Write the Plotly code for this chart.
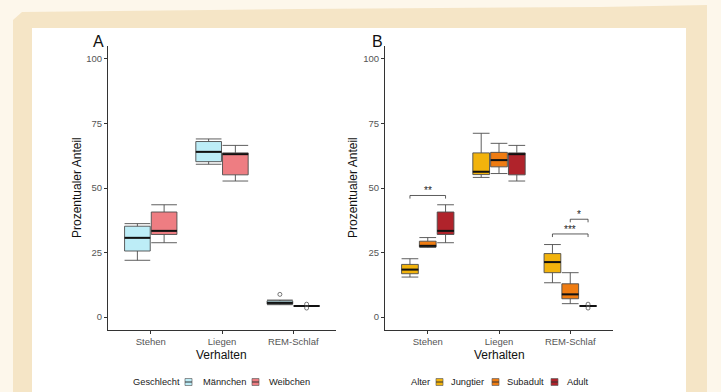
import plotly.graph_objects as go

W, H = 721, 392

categories = ["Stehen", "Liegen", "REM-Schlaf"]
y_ticks = [0, 25, 50, 75, 100]

# Panel A: Geschlecht
maennchen_min = [22.0, 59.2, 4.8]
maennchen_q1 = [25.6, 60.2, 5.0]
maennchen_med = [30.7, 64.0, 5.5]
maennchen_q3 = [35.2, 68.0, 6.3]
maennchen_max = [36.2, 69.0, 6.6]

weibchen_min = [28.8, 52.7, 4.3]
weibchen_q1 = [32.0, 55.1, 4.3]
weibchen_med = [33.4, 63.1, 4.3]
weibchen_q3 = [40.7, 63.6, 4.3]
weibchen_max = [43.5, 66.5, 4.3]

# Panel B: Alter
jung_min = [15.5, 54.1, 13.3]
jung_q1 = [16.8, 55.2, 17.2]
jung_med = [18.4, 56.3, 21.3]
jung_q3 = [20.4, 63.6, 24.6]
jung_max = [22.6, 71.2, 28.1]

sub_min = [27.0, 55.6, 5.2]
sub_q1 = [27.2, 58.2, 7.1]
sub_med = [27.6, 60.8, 8.8]
sub_q3 = [29.4, 63.8, 12.9]
sub_max = [30.8, 67.3, 17.2]

adult_min = [28.8, 52.7, 4.3]
adult_q1 = [32.0, 55.1, 4.3]
adult_med = [33.4, 63.1, 4.3]
adult_q3 = [40.7, 63.6, 4.3]
adult_max = [43.5, 66.5, 4.3]

# outliers (category index, value)
out_maennchen = [(2, 8.8)]
out_weibchen = [(2, 5.0), (2, 3.5)]
out_adult = [(2, 5.0), (2, 3.5)]

# significance brackets in panel B
sig_cat = [0, 2, 2]
sig_from = [0, 0, 1]
sig_to = [2, 2, 2]
sig_y = [47.1, 32.2, 37.9]
sig_label = ["**", "***", "*"]

legend_a_title = "Geschlecht"
legend_a_labels = ["Männchen", "Weibchen"]
legend_b_title = "Alter"
legend_b_labels = ["Jungtier", "Subadult", "Adult"]

colors_a = ["#BDEDF7", "#EE7D82"]
colors_b = ["#F2B30C", "#EF7C12", "#B0232B"]

FONT = "Liberation Sans, Arial, sans-serif"
fig = go.Figure()

def xp(p): return p / W
def yp(p): return 1 - p / H

def add_group(name, color, off, width, stats, outl, xa, ya):
    mn, q1, md, q3, mx = stats
    xs = [i + off for i in range(len(categories))]
    fig.add_trace(go.Box(
        x=xs, q1=q1, median=md, q3=q3, lowerfence=mn, upperfence=mx,
        width=width, fillcolor=color, line=dict(color="#4d4d4d", width=0.9),
        whiskerwidth=1, name=name, xaxis=xa, yaxis=ya, showlegend=False,
        boxpoints=False, hoverinfo="skip"))
    mx_, my_ = [], []
    for x, m in zip(xs, md):
        mx_ += [x - width / 2, x + width / 2, None]
        my_ += [m, m, None]
    fig.add_trace(go.Scatter(x=mx_, y=my_, mode="lines", line=dict(color="#111", width=2),
                             xaxis=xa, yaxis=ya, showlegend=False, hoverinfo="skip"))
    if outl:
        fig.add_trace(go.Scatter(
            x=[c + off for c, v in outl], y=[v for c, v in outl], mode="markers",
            marker=dict(symbol="circle-open", size=4, color="#555", line=dict(width=0.8)),
            xaxis=xa, yaxis=ya, showlegend=False, hoverinfo="skip"))

wA = 0.36
add_group(legend_a_labels[0], colors_a[0], -0.1875, wA,
          (maennchen_min, maennchen_q1, maennchen_med, maennchen_q3, maennchen_max),
          out_maennchen, "x", "y")
add_group(legend_a_labels[1], colors_a[1], 0.1875, wA,
          (weibchen_min, weibchen_q1, weibchen_med, weibchen_q3, weibchen_max),
          out_weibchen, "x", "y")

wB = 0.235
offB = [-0.25, 0.0, 0.25]
add_group(legend_b_labels[0], colors_b[0], offB[0], wB,
          (jung_min, jung_q1, jung_med, jung_q3, jung_max), None, "x2", "y2")
add_group(legend_b_labels[1], colors_b[1], offB[1], wB,
          (sub_min, sub_q1, sub_med, sub_q3, sub_max), None, "x2", "y2")
add_group(legend_b_labels[2], colors_b[2], offB[2], wB,
          (adult_min, adult_q1, adult_med, adult_q3, adult_max), out_adult, "x2", "y2")

annotations = []
tick = 1.2
for c, a, b, yv, lab in zip(sig_cat, sig_from, sig_to, sig_y, sig_label):
    x1, x2 = c + offB[a], c + offB[b]
    fig.add_trace(go.Scatter(x=[x1, x1, x2, x2], y=[yv - tick, yv, yv, yv - tick], mode="lines",
                             line=dict(color="#333", width=0.8), xaxis="x2", yaxis="y2",
                             showlegend=False, hoverinfo="skip"))
    annotations.append(dict(x=(x1 + x2) / 2, y=yv, xref="x2", yref="y2", text=lab,
                            showarrow=False, xanchor="center", yanchor="bottom", yshift=-3,
                            font=dict(size=10, color="#222", family=FONT)))

shapes = [
    dict(type="path", xref="paper", yref="paper", layer="below",
         path=f"M {xp(13)},{yp(392)} L {xp(13)},{yp(20)} L {xp(22)},{yp(12)} L {xp(300)},{yp(9)} "
              f"L {xp(600)},{yp(7)} L {xp(707)},{yp(5)} L {xp(707)},{yp(392)} Z",
         fillcolor="#F5E5C6", line=dict(width=0)),
    dict(type="rect", xref="paper", yref="paper", layer="below",
         x0=xp(32), x1=xp(686), y0=0, y1=yp(28), fillcolor="white", line=dict(width=0)),
]

LEG_FS = 9.3

def legend_block(title, title_x, labels, colors, icon_x, text_x, yc):
    annotations.append(dict(text=title, x=xp(title_x), y=yp(yc), xref="paper", yref="paper",
                            xanchor="left", yanchor="middle", showarrow=False,
                            font=dict(size=LEG_FS, color="#222", family=FONT)))
    for lab, col, ix, tx in zip(labels, colors, icon_x, text_x):
        shapes.append(dict(type="rect", xref="paper", yref="paper",
                           x0=xp(ix), x1=xp(ix + 7), y0=yp(yc + 3.5), y1=yp(yc - 3.5),
                           fillcolor=col, line=dict(color="#666", width=0.7)))
        shapes.append(dict(type="line", xref="paper", yref="paper",
                           x0=xp(ix), x1=xp(ix + 7), y0=yp(yc), y1=yp(yc),
                           line=dict(color="#333", width=1)))
        annotations.append(dict(text=lab, x=xp(tx), y=yp(yc), xref="paper", yref="paper",
                                xanchor="left", yanchor="middle", showarrow=False,
                                font=dict(size=LEG_FS, color="#222", family=FONT)))

legend_block(legend_a_title, 131, legend_a_labels, colors_a, [185, 252], [201, 267], 382)
legend_block(legend_b_title, 409, legend_b_labels, colors_b, [436, 492, 551], [449, 505, 565], 382)

ydom = [yp(330), yp(46)]
axis_common = dict(showline=True, linecolor="#333", linewidth=1, ticks="outside", ticklen=3,
                   tickcolor="#333", showgrid=False, zeroline=False,
                   tickfont=dict(size=9.5, color="#555", family=FONT))
fig.update_layout(
    width=W, height=H, margin=dict(l=0, r=0, t=0, b=0),
    paper_bgcolor="#FDF7EB", plot_bgcolor="rgba(0,0,0,0)",
    boxmode="overlay", showlegend=False,
    xaxis=dict(domain=[xp(108), xp(336)], range=[-0.6, 2.6], tickvals=[0, 1, 2],
               ticktext=categories, anchor="y", **axis_common),
    yaxis=dict(domain=ydom, range=[-5, 105], tickvals=y_ticks, anchor="x", **axis_common),
    xaxis2=dict(domain=[xp(385), xp(613)], range=[-0.6, 2.6], tickvals=[0, 1, 2],
                ticktext=categories, anchor="y2", **axis_common),
    yaxis2=dict(domain=ydom, range=[-5, 105], tickvals=y_ticks, anchor="x2", **axis_common),
    shapes=shapes,
)

def title_ann(text, x, y, size, angle=0):
    return dict(text=text, x=xp(x), y=yp(y), xref="paper", yref="paper", showarrow=False,
                xanchor="center", yanchor="middle", textangle=angle,
                font=dict(size=size, color="#111", family=FONT))

annotations += [
    title_ann("A", 98, 42, 16),
    title_ann("B", 377, 42, 16),
    title_ann("Prozentualer Anteil", 77, 188, 12, -90),
    title_ann("Prozentualer Anteil", 353, 188, 12, -90),
    title_ann("Verhalten", 222, 355, 12),
    title_ann("Verhalten", 499, 355, 12),
]
fig.update_layout(annotations=annotations)

fig.write_html("out.html", config={"displayModeBar": False},
               post_script="document.body.style.margin='0';document.body.style.overflow='hidden';")
